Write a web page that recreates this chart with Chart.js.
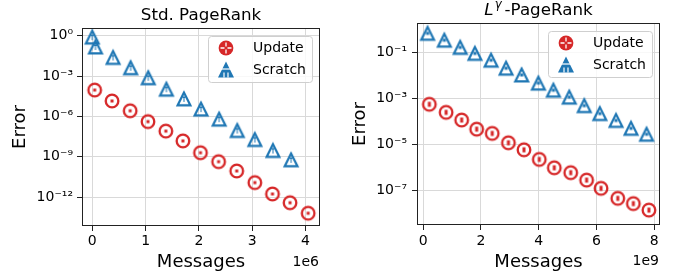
<!DOCTYPE html>
<html><head><meta charset="utf-8">
<script src="https://cdn.jsdelivr.net/npm/chart.js@4"></script>
<style>
html,body{margin:0;padding:0;background:#fff;}
#wrap{position:relative;width:673px;height:274px;overflow:hidden;background:#fff;}
#c1{position:absolute;left:0;top:0;}
#c2{position:absolute;left:340px;top:0;}
</style></head><body>
<div id="wrap"><canvas id="c1" width="340" height="274"></canvas><canvas id="c2" width="333" height="274"></canvas></div>
<script>
// ---------- data ----------
const seriesNames = ['Update', 'Scratch'];

const stdUpdateMessages = [0.045e6, 0.37e6, 0.71e6, 1.045e6, 1.38e6, 1.70e6, 2.03e6, 2.37e6, 2.71e6, 3.05e6, 3.38e6, 3.71e6, 4.05e6];
const stdUpdateError    = [9.1e-5, 1.4e-5, 2.6e-6, 4.1e-7, 8.1e-8, 1.5e-8, 2.0e-9, 4.3e-10, 8.7e-11, 1.2e-11, 1.7e-12, 3.8e-13, 6.3e-14];
const stdScratchMessages = [0, 0.06e6, 0.39e6, 0.72e6, 1.05e6, 1.39e6, 1.72e6, 2.04e6, 2.38e6, 2.72e6, 3.05e6, 3.39e6, 3.73e6];
const stdScratchError    = [0.79, 0.145, 0.024, 0.0041, 7.4e-4, 1.05e-4, 2.0e-5, 3.5e-6, 6.2e-7, 8.9e-8, 1.9e-8, 2.9e-9, 5.9e-10];

const lgUpdateMessages = [0.21e9, 0.79e9, 1.33e9, 1.85e9, 2.39e9, 2.95e9, 3.49e9, 4.02e9, 4.54e9, 5.11e9, 5.66e9, 6.16e9, 6.74e9, 7.28e9, 7.82e9];
const lgUpdateError    = [5.6e-4, 2.5e-4, 1.15e-4, 4.6e-5, 3.0e-5, 1.17e-5, 5.8e-6, 2.2e-6, 9.5e-7, 5.8e-7, 2.75e-7, 1.2e-7, 4.4e-8, 2.6e-8, 1.35e-8];
const lgScratchMessages = [0.15e9, 0.73e9, 1.28e9, 1.79e9, 2.35e9, 2.87e9, 3.41e9, 3.99e9, 4.51e9, 5.06e9, 5.58e9, 6.12e9, 6.68e9, 7.20e9, 7.74e9];
const lgScratchError    = [0.70, 0.35, 0.17, 0.093, 0.047, 0.021, 0.0107, 0.0047, 0.0023, 0.00115, 4.9e-4, 2.2e-4, 1.1e-4, 5.0e-5, 2.75e-5];

const stdXTicks = [0, 1e6, 2e6, 3e6, 4e6];
const stdXTickLabels = ['0', '1', '2', '3', '4'];
const stdYTicks = [1e0, 1e-3, 1e-6, 1e-9, 1e-12];
const stdYTickLabels = ['10⁰', '10⁻³', '10⁻⁶', '10⁻⁹', '10⁻¹²'];
const lgXTicks = [0, 2e9, 4e9, 6e9, 8e9];
const lgXTickLabels = ['0', '2', '4', '6', '8'];
const lgYTicks = [1e-1, 1e-3, 1e-5, 1e-7];
const lgYTickLabels = ['10⁻¹', '10⁻³', '10⁻⁵', '10⁻⁷'];

// ---------- styles ----------
const RED = '#d62728', BLUE = '#1f77b4';
const FONT = '"DejaVu Sans"';
const INK = '#000';
Chart.defaults.font.family = FONT;
Chart.defaults.color = INK;

function mk(size, draw) {
  const c = document.createElement('canvas');
  c.width = size; c.height = size;
  draw(c.getContext('2d'), size / 2);
  return c;
}
function circleMarker(iw, ih) {
  return mk(18, (g, c) => {
    g.beginPath(); g.arc(c, c, 6.3, 0, Math.PI * 2);
    g.lineWidth = 2.3; g.strokeStyle = RED; g.stroke();
    g.fillStyle = RED; g.fillRect(c - iw / 2, c - ih / 2, iw, ih);
  });
}
function triMarker(inner) {
  return mk(22, (g, c) => {
    const h = 6.4;
    g.beginPath(); g.moveTo(c, c - h); g.lineTo(c - h, c + h); g.lineTo(c + h, c + h); g.closePath();
    g.lineJoin = 'miter'; g.lineWidth = 2.2; g.strokeStyle = BLUE; g.stroke();
    g.fillStyle = BLUE; inner(g, c);
  });
}
const stdCircle = circleMarker(3, 3);
const lgCircle = circleMarker(3, 5);
const stdTri = triMarker((g, c) => { g.fillRect(c - 0.5, c - 3, 1, 6); g.fillRect(c - 1.5, c - 2, 3, 1); });
const lgTri = triMarker((g, c) => { g.fillRect(c - 1.5, c - 1.5, 3, 3); });

function legendMarker(ctx, i, x, y) {
  ctx.save();
  if (i === 0) {
    ctx.beginPath(); ctx.arc(x, y, 7.4, 0, Math.PI * 2); ctx.fillStyle = RED; ctx.fill();
    ctx.strokeStyle = '#fff'; ctx.lineWidth = 1.3;
    ctx.beginPath(); ctx.moveTo(x - 5.5, y); ctx.lineTo(x + 5.5, y); ctx.moveTo(x, y - 5.5); ctx.lineTo(x, y + 5.5); ctx.stroke();
    ctx.fillStyle = RED; ctx.fillRect(x - 1.5, y - 1.5, 3, 3);
  } else {
    ctx.beginPath(); ctx.moveTo(x, y - 8.5); ctx.lineTo(x - 8, y + 7.5); ctx.lineTo(x + 8, y + 7.5); ctx.closePath();
    ctx.fillStyle = BLUE; ctx.fill();
    ctx.strokeStyle = '#fff'; ctx.lineWidth = 1.2;
    ctx.beginPath(); ctx.moveTo(x - 6, y - 1); ctx.lineTo(x + 6, y - 1); ctx.stroke();
    ctx.beginPath(); ctx.moveTo(x - 2, y + 2.5); ctx.lineTo(x - 2, y + 7.5); ctx.moveTo(x + 2, y + 2.5); ctx.lineTo(x + 2, y + 7.5); ctx.stroke();
  }
  ctx.restore();
}

function makePlugin(opts) {
  return {
    id: 'deco',
    afterDatasetsDraw(chart) {
      const { ctx, chartArea: a } = chart;
      ctx.save();
      // spines
      ctx.strokeStyle = '#222'; ctx.lineWidth = 1;
      ctx.strokeRect(a.left + 0.5, a.top + 0.5, a.right - a.left - 1, a.bottom - a.top - 1);
      // legend
      const w = 104, h = 46, lx = a.right - 8 - w, ly = a.top + 8;
      ctx.beginPath(); ctx.roundRect(lx + 0.5, ly + 0.5, w, h, 3);
      ctx.fillStyle = 'rgba(255,255,255,0.8)'; ctx.fill();
      ctx.strokeStyle = '#cfcfcf'; ctx.stroke();
      chart.data.datasets.forEach((ds, i) => {
        const cy = ly + 12 + i * 22;
        legendMarker(ctx, i, lx + 18, cy);
        ctx.fillStyle = INK; ctx.font = '14px ' + FONT; ctx.textBaseline = 'middle'; ctx.textAlign = 'left';
        ctx.fillText(ds.label, lx + 45, cy + 0.5);
      });
      // offset text
      ctx.font = '14px ' + FONT; ctx.textAlign = 'right'; ctx.textBaseline = 'alphabetic'; ctx.fillStyle = INK;
      ctx.fillText(opts.offset, a.right - 1, a.bottom + 40);
      // title
      const cx = (a.left + a.right) / 2, by = a.top - 8.3;
      ctx.fillStyle = INK; ctx.textBaseline = 'alphabetic';
      if (opts.title) {
        ctx.font = '16.7px ' + FONT; ctx.textAlign = 'center';
        ctx.fillText(opts.title, cx, by);
      } else {
        ctx.textAlign = 'left';
        const fL = 'italic 16.7px ' + FONT, fG = 'italic 11.7px ' + FONT, fR = '16.7px ' + FONT;
        ctx.font = fL; const wL = ctx.measureText('L').width;
        ctx.font = fG; const wG = ctx.measureText('γ').width;
        ctx.font = fR; const wR = ctx.measureText('-PageRank').width;
        const tot = wL + 1 + wG + 3 + wR;
        let x = cx - tot / 2;
        ctx.font = fL; ctx.fillText('L', x, by); x += wL + 1;
        ctx.font = fG; ctx.fillText('γ', x, by - 7); x += wG + 3;
        ctx.font = fR; ctx.fillText('-PageRank', x, by);
      }
      ctx.restore();
    }
  };
}

function pts(xs, ys) { return xs.map((x, i) => ({ x: x, y: ys[i] })); }

function makeChart(el, cfg) {
  return new Chart(el, {
    type: 'scatter',
    data: {
      datasets: [
        { label: seriesNames[0], data: pts(cfg.ux, cfg.uy), pointStyle: cfg.circle, pointRadius: 7, showLine: false },
        { label: seriesNames[1], data: pts(cfg.sx, cfg.sy), pointStyle: cfg.tri, pointRadius: 7, showLine: false }
      ]
    },
    options: {
      responsive: false, animation: false, devicePixelRatio: 1,
      events: [],
      layout: { padding: { left: 0, top: cfg.top, right: cfg.right, bottom: 0 } },
      plugins: { legend: { display: false }, tooltip: { enabled: false }, title: { display: false } },
      scales: {
        x: {
          type: 'linear', min: cfg.xmin, max: cfg.xmax,
          afterFit: s => { s.height = cfg.xh; s.paddingLeft = 0; s.paddingRight = 0; },
          afterBuildTicks: s => { s.ticks = cfg.xTicks.map(v => ({ value: v })); },
          ticks: { autoSkip: false, maxRotation: 0, padding: cfg.xpad, font: { size: 14 }, color: INK,
                   callback: (v, i) => cfg.xLabels[i] },
          grid: { color: '#d9d9d9', lineWidth: 1, tickColor: '#222', tickLength: 5, tickWidth: 1 },
          border: { display: false },
          title: { display: true, text: 'Messages', font: { size: 18 }, color: INK, padding: { top: 0, bottom: 1 } }
        },
        y: {
          type: 'logarithmic', min: cfg.ymin, max: cfg.ymax,
          afterFit: s => { s.width = cfg.yw; s.paddingTop = 0; s.paddingBottom = 0; },
          afterBuildTicks: s => { s.ticks = cfg.yTicks.map(v => ({ value: v })); },
          ticks: { autoSkip: false, padding: cfg.ypad, font: { size: 14 }, color: INK,
                   callback: (v, i) => cfg.yLabels[i] },
          grid: { color: '#d9d9d9', lineWidth: 1, tickColor: '#222', tickLength: 5, tickWidth: 1 },
          border: { display: false },
          title: { display: true, text: 'Error', font: { size: 18 }, color: INK, padding: { top: 10, bottom: 0 } }
        }
      }
    },
    plugins: [makePlugin(cfg.deco)]
  });
}

makeChart(document.getElementById('c1'), {
  ux: stdUpdateMessages, uy: stdUpdateError, sx: stdScratchMessages, sy: stdScratchError,
  circle: stdCircle, tri: stdTri,
  top: 28, right: 20, xh: 48, yw: 82, xpad: 2, ypad: 4,
  xmin: -0.193e6, xmax: 4.272e6, ymin: Math.pow(10, -14.15), ymax: Math.pow(10, 0.572),
  xTicks: stdXTicks, xLabels: stdXTickLabels, yTicks: stdYTicks, yLabels: stdYTickLabels,
  deco: { title: 'Std. PageRank', offset: '1e6' }
});

makeChart(document.getElementById('c2'), {
  ux: lgUpdateMessages, uy: lgUpdateError, sx: lgScratchMessages, sy: lgScratchError,
  circle: lgCircle, tri: lgTri,
  top: 23, right: 13, xh: 49, yw: 77, xpad: 3, ypad: 5,
  xmin: -0.218e9, xmax: 8.204e9, ymin: Math.pow(10, -8.52), ymax: Math.pow(10, 0.297),
  xTicks: lgXTicks, xLabels: lgXTickLabels, yTicks: lgYTicks, yLabels: lgYTickLabels,
  deco: { title: null, offset: '1e9' }
});
</script>
</body></html>
